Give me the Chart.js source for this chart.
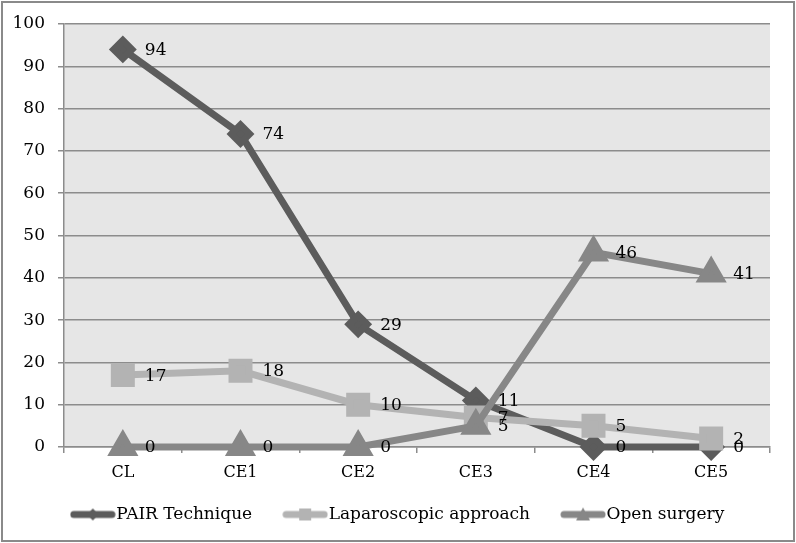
<!DOCTYPE html>
<html><head><meta charset="utf-8">
<script src="https://cdn.jsdelivr.net/npm/chart.js@4"></script>
<style>
html,body{margin:0;padding:0;background:#fff;}
#wrap{position:relative;width:796px;height:543px;}
#frame{position:absolute;left:1px;top:1px;width:790px;height:537px;border:2px solid #8a8a8a;pointer-events:none;}
canvas{position:absolute;left:0;top:0;}
</style></head><body>
<div id="wrap"><canvas id="c" width="796" height="543"></canvas><div id="frame"></div></div>
<script>
const categories = ["CL","CE1","CE2","CE3","CE4","CE5"];
const pairValues = [94,74,29,11,0,0];
const laparoscopicValues = [17,18,10,7,5,2];
const openSurgeryValues = [0,0,0,5,46,41];
const yTicks = [0,10,20,30,40,50,60,70,80,90,100];

const FONT = "'DejaVu Serif', serif";
const cPair = '#5c5c5c', cLap = '#b3b3b3', cOpen = '#878787';

function legendImg(color, style){
  const cv = document.createElement('canvas');
  cv.width = 46; cv.height = 20;
  const g = cv.getContext('2d');
  g.strokeStyle = color; g.lineWidth = 7; g.lineCap='round';
  g.beginPath(); g.moveTo(4,10); g.lineTo(42,10); g.stroke();
  g.fillStyle = color;
  g.beginPath();
  if(style==='diamond'){ g.moveTo(23,4); g.lineTo(29,10); g.lineTo(23,16); g.lineTo(17,10); g.closePath(); }
  else if(style==='square'){ g.rect(17,4,12,12); }
  else { g.moveTo(23,3); g.lineTo(30,16); g.lineTo(16,16); g.closePath(); }
  g.fill();
  return cv;
}

const bgPlugin = {
  id:'bg',
  beforeDraw(chart){
    const {ctx, chartArea:a} = chart;
    if(!chart.$legendShifted && chart.legend){
      chart.legend.left += 16; chart.legend.right += 16;
      chart.legend.top -= 14; chart.legend.bottom -= 14;
      chart.$legendShifted = true;
    }
    ctx.save(); ctx.fillStyle='#e6e6e6';
    ctx.fillRect(a.left,a.top,a.right-a.left,a.bottom-a.top);
    ctx.restore();
  }
};
const labelPlugin = {
  id:'dlabels',
  afterDatasetsDraw(chart){
    const ctx = chart.ctx;
    ctx.save();
    ctx.font = "17px " + FONT;
    ctx.fillStyle = '#000';
    ctx.textAlign='left'; ctx.textBaseline='middle';
    chart.data.datasets.forEach((ds,i)=>{
      chart.getDatasetMeta(i).data.forEach((pt,j)=>{
        ctx.fillText(String(ds.data[j]), pt.x+22, pt.y+1);
      });
    });
    ctx.restore();
  }
};

new Chart(document.getElementById('c'), {
  type:'line',
  data:{
    labels: categories,
    datasets:[
      {label:'PAIR Technique', order:3, clip:false, data:pairValues, borderColor:cPair, backgroundColor:cPair, borderWidth:7, pointStyle:'rectRot', pointRadius:9, pointHoverRadius:9, tension:0, legendImage: legendImg(cPair,'diamond')},
      {label:'Laparoscopic approach', order:2, clip:false, data:laparoscopicValues, borderColor:cLap, backgroundColor:cLap, borderWidth:7, pointStyle:'rect', pointRadius:12, pointHoverRadius:12, tension:0, legendImage: legendImg(cLap,'square')},
      {label:'Open surgery', order:1, clip:false, data:openSurgeryValues, borderColor:cOpen, backgroundColor:cOpen, borderWidth:7, pointStyle:'triangle', pointRadius:11, pointHoverRadius:11, tension:0, legendImage: legendImg(cOpen,'triangle')}
    ]
  },
  options:{
    responsive:false, animation:false,
    layout:{padding:{left:0,right:26,top:24,bottom:-4}},
    plugins:{
      tooltip:{enabled:false},
      legend:{
        position:'bottom',
        labels:{
          usePointStyle:true, pointStyleWidth:30, padding:38,
          color:'#000', font:{family:FONT, size:17},
          generateLabels(chart){
            return chart.data.datasets.map((ds,i)=>({
              text: ds.label, pointStyle: ds.legendImage, datasetIndex:i,
              fillStyle: ds.borderColor, strokeStyle: ds.borderColor, lineWidth:0, hidden:false
            }));
          }
        }
      }
    },
    scales:{
      x:{
        offset:true,
        afterFit(s){ s.height = 35; },
        grid:{offset:true, drawOnChartArea:false, color:'#8c8c8c', lineWidth:1.5, tickLength:6},
        border:{color:'#8c8c8c', width:1.5},
        ticks:{color:'#000', font:{family:FONT, size:16}, padding:10}
      },
      y:{
        min:0, max:100,
        afterBuildTicks(s){ s.ticks = yTicks.map(v=>({value:v})); },
        afterFit(s){ s.width = 64; },
        grid:{color:'#8c8c8c', lineWidth:1.5, tickLength:6},
        border:{color:'#8c8c8c', width:1.5},
        ticks:{color:'#000', font:{family:FONT, size:17}, padding:13}
      }
    }
  },
  plugins:[bgPlugin, labelPlugin]
});
</script>
</body></html>
